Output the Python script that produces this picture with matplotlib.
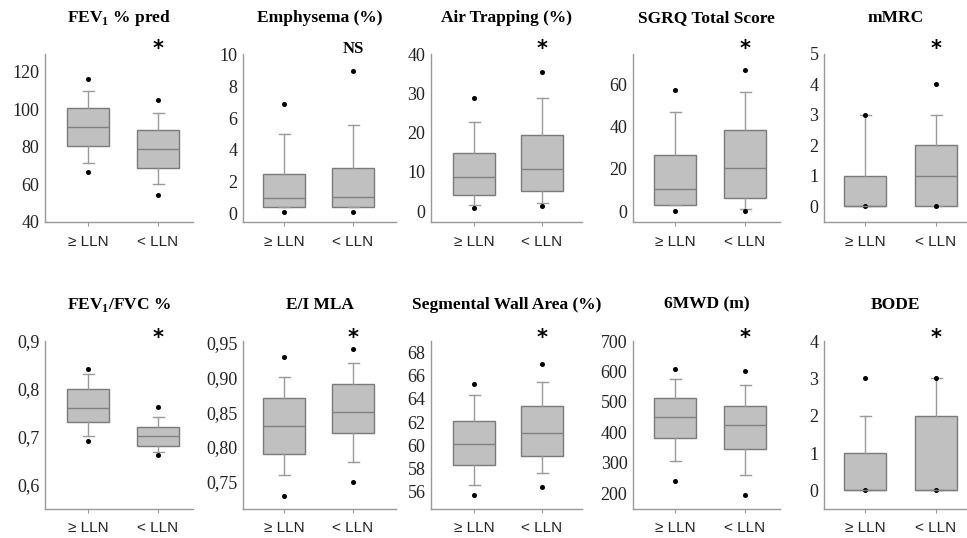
import matplotlib
matplotlib.use("Agg")
import matplotlib.pyplot as plt
import matplotlib.transforms as mtransforms

plt.rcParams["mathtext.fontset"] = "custom"
plt.rcParams["mathtext.rm"] = "Liberation Serif:bold"
plt.rcParams["mathtext.bf"] = "Liberation Serif:bold"

groups = ["\u2265 LLN", "< LLN"]

titles = [
    r"FEV$_\mathbf{1}$ % pred", "Emphysema (%)", "Air Trapping (%)", "SGRQ Total Score", "mMRC",
    r"FEV$_\mathbf{1}$/FVC %", "E/I MLA", "Segmental Wall Area (%)", "6MWD (m)", "BODE",
]
marks = ["*", "NS", "*", "*", "*", "*", "*", "*", "*", "*"]

# per group: [whislo, q1, median, q3, whishi]
fev1_pred = [[71.5, 80.5, 90.6, 100.7, 109.7], [60.2, 68.5, 78.9, 88.7, 98.0]]
fev1_pred_out = [[116.3, 66.4], [105.1, 54.3]]
emphysema = [[0.4, 0.4, 0.95, 2.46, 5.0], [0.4, 0.4, 1.0, 2.83, 5.58]]
emphysema_out = [[6.9, 0.1], [8.98, 0.1]]
air_trapping = [[1.6, 4.0, 8.6, 14.8, 22.8], [2.0, 5.2, 10.7, 19.5, 28.9]]
air_trapping_out = [[28.9, 0.8], [35.5, 1.3]]
sgrq = [[3.0, 3.0, 10.4, 26.6, 47.0], [0.8, 6.2, 20.2, 38.3, 56.5]]
sgrq_out = [[57.5, 0.0], [66.8, 0.0]]
mmrc = [[0, 0, 0, 1, 3], [0, 0, 1, 2, 3]]
mmrc_out = [[3, 0], [4, 0]]
fev1_fvc = [[0.70, 0.73, 0.76, 0.80, 0.83], [0.668, 0.68, 0.70, 0.72, 0.74]]
fev1_fvc_out = [[0.842, 0.69], [0.761, 0.662]]
ei_mla = [[0.76, 0.79, 0.83, 0.87, 0.90], [0.778, 0.82, 0.85, 0.89, 0.92]]
ei_mla_out = [[0.929, 0.73], [0.94, 0.75]]
wall_area = [[56.6, 58.3, 60.1, 62.1, 64.3], [57.6, 59.1, 61.1, 63.4, 65.5]]
wall_area_out = [[65.3, 55.7], [67.0, 56.4]]
mwd6 = [[306, 381, 449, 514, 574], [261, 345, 425, 488, 556]]
mwd6_out = [[607, 240], [600, 193]]
bode = [[0, 0, 0, 1, 2], [0, 0, 0, 2, 3]]
bode_out = [[3, 0], [3, 0]]

stats = [fev1_pred, emphysema, air_trapping, sgrq, mmrc,
         fev1_fvc, ei_mla, wall_area, mwd6, bode]
outliers = [fev1_pred_out, emphysema_out, air_trapping_out, sgrq_out, mmrc_out,
            fev1_fvc_out, ei_mla_out, wall_area_out, mwd6_out, bode_out]

yticks = [
    [40, 60, 80, 100, 120], [0, 2, 4, 6, 8, 10], [0, 10, 20, 30, 40], [0, 20, 40, 60], [0, 1, 2, 3, 4, 5],
    [0.6, 0.7, 0.8, 0.9], [0.75, 0.80, 0.85, 0.90, 0.95], [56, 58, 60, 62, 64, 66, 68],
    [200, 300, 400, 500, 600, 700], [0, 1, 2, 3, 4],
]
yticklabels = [
    ["40", "60", "80", "100", "120"], ["0", "2", "4", "6", "8", "10"], ["0", "10", "20", "30", "40"],
    ["0", "20", "40", "60"], ["0", "1", "2", "3", "4", "5"],
    ["0,6", "0,7", "0,8", "0,9"], ["0,75", "0,80", "0,85", "0,90", "0,95"],
    ["56", "58", "60", "62", "64", "66", "68"], ["200", "300", "400", "500", "600", "700"],
    ["0", "1", "2", "3", "4"],
]
ylims = [(40, 129.4), (-0.55, 10.05), (-2.8, 40.1), (-5.2, 74.5), (-0.52, 5.0),
         (0.548, 0.9), (0.711, 0.952), (54.5, 69.0), (148, 700), (-0.5, 4.0)]

# layout in pixels: spine x, box centres, right end of x axis
cols = [(45, 88, 158, 193), (243, 284, 353, 396), (431, 474, 542, 582),
        (633, 675, 745, 780), (824, 865, 936, 967)]
rows = [(54, 222), (341, 509)]
star_drop = [-1.0, -2.0]   # baseline offset of the asterisk, points
W, H = 967, 538

fig = plt.figure(figsize=(W / 100, H / 100), dpi=100)

for i in range(10):
    r, c = divmod(i, 5)
    s, c1, c2, rt = cols[c]
    top, bot = rows[r]
    ax = fig.add_axes([s / W, 1 - bot / H, (rt - s) / W, (bot - top) / H])
    unit = c2 - c1
    ax.set_xlim(1 - (c1 - s) / unit, 2 + (rt - c2) / unit)

    bstats = []
    for g in range(2):
        lo, q1, med, q3, hi = stats[i][g]
        bstats.append(dict(whislo=lo, q1=q1, med=med, q3=q3, whishi=hi, fliers=outliers[i][g]))
    ax.bxp(bstats, positions=[1, 2], widths=42 / unit, capwidths=11 / unit,
           patch_artist=True, manage_ticks=False,
           boxprops=dict(facecolor="#c0c0c0", edgecolor="#7a7a7a", linewidth=1.0),
           medianprops=dict(color="#808080", linewidth=1.0),
           whiskerprops=dict(color="#9a9a9a", linewidth=1.0),
           capprops=dict(color="#9a9a9a", linewidth=1.0),
           flierprops=dict(marker="o", markersize=2.6, markerfacecolor="black",
                           markeredgecolor="black"))

    ax.set_ylim(*ylims[i])
    ax.set_yticks(yticks[i])
    ax.set_yticklabels(yticklabels[i], family="Liberation Serif", fontsize=13, color="#222222")
    ax.set_xticks([1, 2])
    ax.set_xticklabels(groups, family="Liberation Sans", fontsize=11, color="#222222")
    ax.tick_params(axis="y", length=0, pad=4)
    ax.tick_params(axis="x", length=3, pad=6, color="#999999")

    for side in ["top", "right"]:
        ax.spines[side].set_visible(False)
    for side in ["left", "bottom"]:
        ax.spines[side].set_color("#999999")
        ax.spines[side].set_linewidth(1.0)

    ax.annotate(titles[i], xy=(0.5, 1), xycoords="axes fraction", xytext=(0, 26),
                textcoords="offset points", ha="center", va="center",
                family="Liberation Serif", fontweight="bold", fontsize=12.5)

    trans = mtransforms.blended_transform_factory(ax.transData, ax.transAxes)
    if marks[i] == "*":
        ax.annotate("*", xy=(2, 1.0), xycoords=trans, xytext=(0, star_drop[r]),
                    textcoords="offset points", ha="center", va="baseline",
                    family="DejaVu Sans", fontweight="bold", fontsize=15)
    else:
        ax.annotate(marks[i], xy=(2, 1.0), xycoords=trans, xytext=(0, 3.5),
                    textcoords="offset points", ha="center", va="center",
                    family="Liberation Serif", fontweight="bold", fontsize=12)

plt.savefig("out.png", dpi=100)
